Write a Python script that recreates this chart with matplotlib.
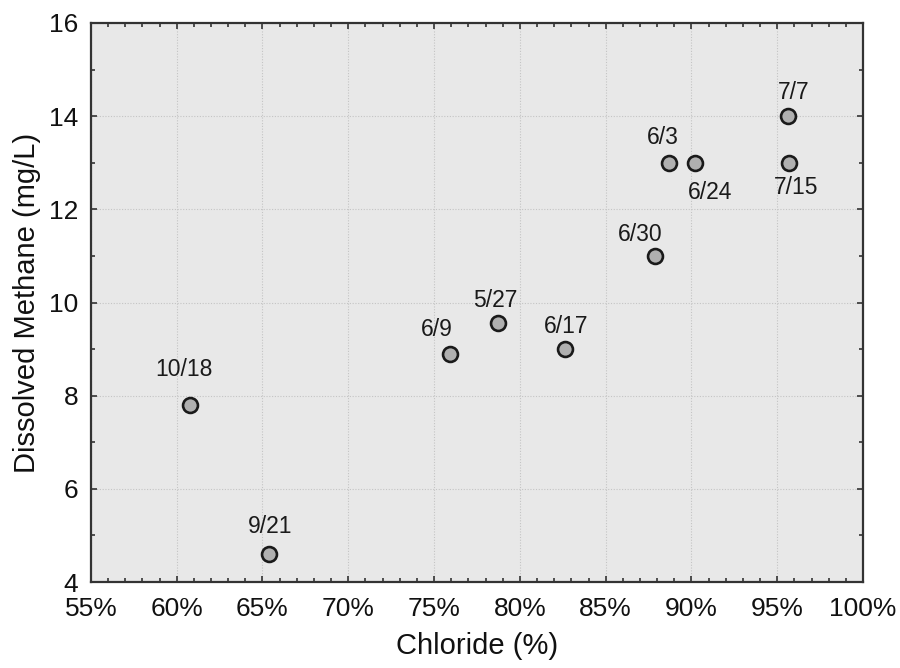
import matplotlib
matplotlib.use("Agg")
import matplotlib.pyplot as plt
from matplotlib.ticker import MultipleLocator, FuncFormatter

plt.rcParams['font.family'] = ['Liberation Sans', 'DejaVu Sans']

# Sampling dates, chloride fraction (%) and dissolved methane (mg/L)
dates = ["10/18", "9/21", "6/9", "5/27", "6/17", "6/30", "6/3", "6/24", "7/7", "7/15"]
chloride = [60.8, 65.4, 75.9, 78.7, 82.6, 87.9, 88.7, 90.2, 95.6, 95.7]
methane = [7.8, 4.6, 8.9, 9.55, 9.0, 11.0, 13.0, 13.0, 14.0, 13.0]

# label offsets in pixels relative to each point
label_dx = [-6, 1, -13, -2, 2, -15, -6, 15, 6, 7]
label_dy = [35, 28, 24, 23, 23, 21, 25, -30, 24, -25]

fig = plt.figure(figsize=(9, 6.68), dpi=100)
ax = fig.add_axes([0.101, 0.1287, 0.858, 0.8369])
ax.set_facecolor('#e8e8e8')

ax.scatter(chloride, methane, s=115, facecolor='#b0b0b0', edgecolor='#1a1a1a',
           linewidth=1.9, zorder=3)

for d, x, y, dx, dy in zip(dates, chloride, methane, label_dx, label_dy):
    ax.annotate(d, (x, y), xytext=(dx, dy), textcoords='offset pixels',
                ha='center', va='center', fontsize=16.5, color='#1a1a1a')

ax.set_xlim(55, 100)
ax.set_ylim(4, 16)
ax.xaxis.set_major_locator(MultipleLocator(5))
ax.xaxis.set_minor_locator(MultipleLocator(1))
ax.yaxis.set_major_locator(MultipleLocator(2))
ax.yaxis.set_minor_locator(MultipleLocator(1))
ax.xaxis.set_major_formatter(FuncFormatter(lambda v, p: f"{v:.0f}%"))

ax.grid(True, which='major', linestyle=(0, (1, 1.5)), color='#c4c4c4', linewidth=0.8, zorder=0)
ax.set_axisbelow(True)

ax.tick_params(which='both', direction='in', top=True, right=True, colors='#333333',
               labelcolor='#111111', labelsize=19)
ax.tick_params(which='major', length=4, width=1.2)
ax.tick_params(which='minor', length=3, width=1.2)
ax.tick_params(axis='x', pad=11)
ax.tick_params(axis='y', pad=9)

for s in ax.spines.values():
    s.set_color('#333333')
    s.set_linewidth(1.6)

ax.set_xlabel("Chloride (%)", fontsize=21, color='#111111', labelpad=8)
ax.set_ylabel("Dissolved Methane (mg/L)", fontsize=21, color='#111111', labelpad=6)

fig.savefig("out.png", dpi=100)
